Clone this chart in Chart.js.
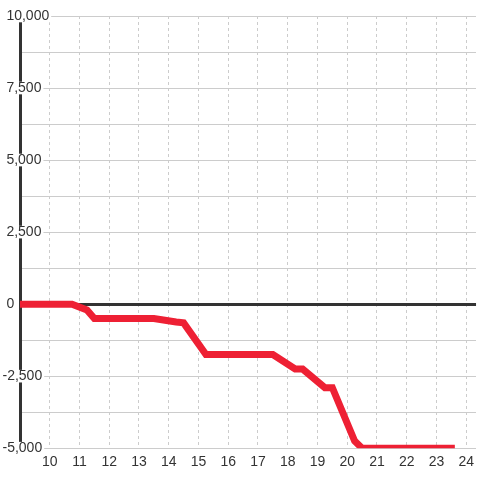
<!DOCTYPE html>
<html>
<head>
<meta charset="utf-8">
<script src="https://cdn.jsdelivr.net/npm/chart.js@4"></script>
<style>
  html, body { margin: 0; padding: 0; background: #ffffff; }
  #wrap { width: 480px; height: 480px; }
</style>
</head>
<body>
<div id="wrap"><canvas id="chart-viz"></canvas></div>
<script>
// hour of day (decimal) and running value
var hours  = [ 9, 10.75, 11.25, 11.5, 13.5, 14.25, 14.5, 15.25, 17.5, 18.25, 18.5, 19.25, 19.5, 20.25, 20.5, 23.5 ];
var values = [ 0, 0, -200, -500, -500, -620, -650, -1750, -1750, -2250, -2250, -2900, -2900, -4750, -5000, -5000 ];

var xMin = 9, xMax = 24.33;
var yMin = -5000, yMax = 10000, yStep = 1250, yLabelStep = 2500;

var points = [];
for (var i = 0; i < hours.length; i++) {
	points.push({ x: hours[i], y: values[i] });
}

var fontFamily = '"Liberation Sans", Arial, sans-serif';

var ctx = document.getElementById('chart-viz');
var cfg = {
	type: 'line',
	data: {
		datasets: [{
			label: 'value',
			data: points,
			borderColor: 'rgb(238,32,52)',
			backgroundColor: 'rgb(238,32,52)',
			borderWidth: 7,
			borderCapStyle: 'square',
			borderJoinStyle: 'miter',
			pointRadius: 0,
			tension: 0,
			fill: false
		}]
	},
	options: {
		responsive: true,
		maintainAspectRatio: false,
		animation: false,
		layout: { padding: { left: 2.5, top: 16, right: 0, bottom: 3 } },
		plugins: {
			legend: { display: false },
			tooltip: { enabled: false }
		},
		scales: {
			x: {
				type: 'linear',
				min: xMin,
				max: xMax,
				border: { display: false, dash: [3, 3] },
				grid: {
					color: '#cccccc',
					lineWidth: function(c) { return c.tick && c.tick.value === xMin ? 0 : 1; },
					drawTicks: false
				},
				ticks: {
					stepSize: 1,
					includeBounds: false,
					padding: 6,
					maxRotation: 0,
					autoSkip: false,
					color: '#333333',
					font: { family: fontFamily, size: 14 },
					callback: function(v) { return v === xMin ? '' : String(v); }
				}
			},
			y: {
				min: yMin,
				max: yMax,
				afterFit: function(scale) { scale.width = 17.5; },
				border: { display: true, color: '#333333', width: 3 },
				grid: {
					drawTicks: false,
					color: function(c) { return c.tick && c.tick.value === 0 ? '#333333' : '#cccccc'; },
					lineWidth: function(c) { return c.tick && c.tick.value === 0 ? 3 : 1; }
				},
				ticks: {
					stepSize: yStep,
					mirror: true,
					padding: -17.5,
					z: 1,
					color: '#333333',
					font: { family: fontFamily, size: 14, lineHeight: 0.9 },
					showLabelBackdrop: true,
					backdropColor: '#ffffff',
					backdropPadding: { x: 2, y: 0 },
					callback: function(v) {
						if (v % yLabelStep !== 0) return '';
						var s = Math.abs(v).toLocaleString('en-US');
						return v < 0 ? '-' + s : ' ' + s;
					}
				}
			}
		}
	}
};
new Chart(ctx, cfg);
</script>
</body>
</html>
